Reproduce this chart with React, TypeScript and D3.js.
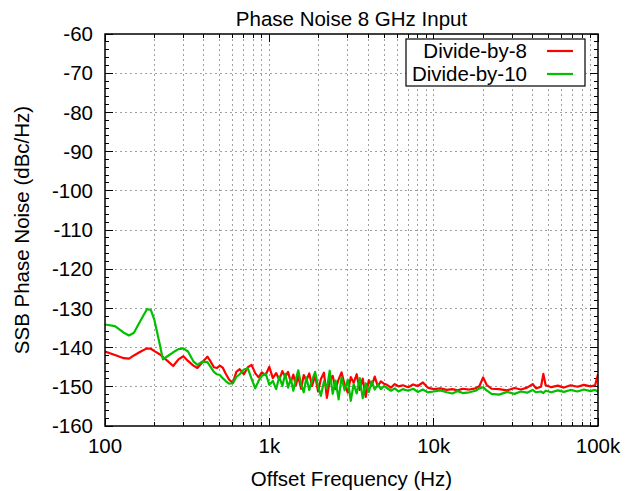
import React, { useRef, useEffect } from "react";
import * as d3 from "d3";

// offset frequencies (Hz)
const freqs = [
  100, 115, 130, 140, 150, 165, 180, 190, 200, 215, 225, 240, 260, 280, 300, 320, 345, 365, 390, 420,
  440, 460, 480, 500, 520, 545, 570, 600, 630, 660, 700, 740, 780, 820, 860, 900, 950, 1000,
  1050, 1100, 1150, 1200, 1250, 1300, 1350, 1400, 1450, 1500, 1560, 1620, 1680, 1750, 1820, 1900, 1980,
  2060, 2150, 2240, 2330, 2430, 2530, 2640, 2750, 2870, 3000, 3130, 3260, 3400, 3550, 3700, 3860, 4030,
  4200, 4380, 4570, 4770, 4980,
  5200, 5500, 5800, 6100, 6500, 7000, 7500, 8000, 8600, 9200, 10000, 11000, 12000, 13000, 14000, 15000,
  16500, 18000, 19000, 20000, 21000, 22500, 25000, 28000, 31000, 34000, 37000, 40000, 42000, 45000,
  46500, 48000, 52000, 57000, 62000, 68000, 75000, 82000, 90000, 96000, 100000,
];

// Divide-by-8 (dBc/Hz)
const div8 = [
  -141.0, -141.9, -142.7, -142.8, -142.0, -141.0, -140.2, -140.3, -140.9, -141.7, -142.4, -143.4, -144.7,
  -143.0, -142.2, -143.4, -144.6, -145.2, -143.8, -142.3, -143.6, -145.0, -145.2, -144.6, -145.1, -146.8,
  -148.2, -149.0, -146.2, -145.5, -146.8, -145.0, -144.4, -146.5, -147.6, -146.3, -147.0, -144.9,
  -147.8, -146.5, -148.2, -146.0, -147.5, -146.2, -148.8, -146.9, -149.6, -147.3, -150.5, -147.0, -148.4,
  -146.6, -149.8, -147.1, -151.2, -148.0, -146.4, -152.8, -148.5, -147.2, -150.6, -148.1, -146.3, -149.4,
  -151.5, -147.5, -149.0, -146.8, -150.8, -147.9, -152.6, -148.3, -149.7, -147.4, -149.9, -148.6, -149.2,
  -149.5, -150.2, -149.3, -149.9, -149.6, -150.1, -149.4, -149.8, -148.9, -150.2, -150.6, -150.4, -150.8,
  -150.6, -150.9, -150.5, -150.7, -150.4, -149.8, -147.6, -149.5, -150.5, -150.6, -150.9, -150.3, -150.7,
  -150.2, -149.3, -150.4, -150.0, -146.7, -149.6, -150.1, -149.7, -150.2, -149.6, -150.0, -149.5, -149.9,
  -149.6, -146.8,
];

// Divide-by-10 (dBc/Hz)
const div10 = [
  -134.1, -134.5, -136.2, -136.9, -136.2, -133.0, -130.2, -130.4, -133.0, -139.0, -143.0, -142.2, -141.2,
  -140.4, -140.2, -141.0, -143.5, -144.4, -143.6, -143.7, -145.0, -146.2, -146.8, -147.0, -147.8, -148.6,
  -149.2, -149.1, -147.5, -146.8, -145.6, -145.3, -148.0, -150.4, -148.5, -147.2, -146.6, -149.5,
  -148.5, -150.6, -147.4, -149.8, -146.7, -150.2, -147.9, -151.0, -148.0, -145.8, -149.4, -151.4, -147.6,
  -150.8, -148.3, -146.2, -149.9, -152.3, -148.6, -150.5, -145.9, -151.8, -148.4, -153.2, -147.6, -150.9,
  -148.2, -153.6, -149.3, -151.7, -147.8, -152.9, -149.1, -151.3, -148.6, -150.7, -149.4, -150.6, -149.8,
  -150.3, -151.0, -150.4, -151.2, -150.6, -151.0, -150.5, -151.3, -150.7, -151.4, -151.2, -150.9, -151.4,
  -151.7, -151.1, -151.6, -151.4, -151.0, -150.4, -150.1, -150.9, -151.8, -152.0, -151.3, -151.8, -151.2,
  -151.5, -150.8, -151.4, -151.2, -151.6, -151.0, -151.4, -150.9, -151.3, -150.8, -151.2, -150.7, -151.1,
  -150.8, -151.3,
];

const seriesNames = ["Divide-by-8", "Divide-by-10"];
const seriesColors = ["#ff0000", "#00c000"];
const xTickValues = [100, 1000, 10000, 100000];
const xTickLabels = ["100", "1k", "10k", "100k"];
const yTickValues = [-160, -150, -140, -130, -120, -110, -100, -90, -80, -70, -60];

const W = 636;
const H = 491;
const m = { left: 105, right: 38, top: 34, bottom: 65 };
const FONT = "'Liberation Sans', Arial, sans-serif";
const FS = 20.5;

const App = () => {
  const svgRef = useRef<SVGSVGElement>(null);

  useEffect(() => {
    const svg = d3.select(svgRef.current);
    svg.selectAll("*").remove();

    const x = d3.scaleLog().domain([100, 100000]).range([m.left, W - m.right]);
    const y = d3.scaleLinear().domain([-160, -60]).range([H - m.bottom, m.top]);
    const [x0, x1] = x.range();
    const [y0, y1] = y.range();

    // minor x positions 2..9 per decade
    const xMinor: number[] = [];
    for (let d = 100; d < 100000; d *= 10) {
      for (let k = 2; k <= 9; k++) xMinor.push(d * k);
    }
    const yMinor = d3.range(-160, -60, 2).filter((v) => v % 10 !== 0);

    // grid
    const grid = svg.append("g").attr("stroke", "#a0a0a0").attr("stroke-width", 1)
      .attr("stroke-dasharray", "2,3").attr("shape-rendering", "crispEdges");
    xMinor.concat(xTickValues.slice(1, -1)).forEach((f) => {
      grid.append("line").attr("x1", x(f)).attr("x2", x(f)).attr("y1", y0).attr("y2", y1);
    });
    yTickValues.slice(1, -1).forEach((v) => {
      grid.append("line").attr("x1", x0).attr("x2", x1).attr("y1", y(v)).attr("y2", y(v));
    });

    // ticks
    const ticks = svg.append("g").attr("stroke", "#000").attr("stroke-width", 1)
      .attr("shape-rendering", "crispEdges");
    yTickValues.forEach((v) => {
      ticks.append("line").attr("x1", x0).attr("x2", x0 + 8).attr("y1", y(v)).attr("y2", y(v));
      ticks.append("line").attr("x1", x1).attr("x2", x1 - 8).attr("y1", y(v)).attr("y2", y(v));
    });
    yMinor.forEach((v) => {
      ticks.append("line").attr("x1", x0).attr("x2", x0 + 4).attr("y1", y(v)).attr("y2", y(v));
      ticks.append("line").attr("x1", x1).attr("x2", x1 - 4).attr("y1", y(v)).attr("y2", y(v));
    });
    xTickValues.forEach((f) => {
      ticks.append("line").attr("x1", x(f)).attr("x2", x(f)).attr("y1", y0).attr("y2", y0 - 8);
      ticks.append("line").attr("x1", x(f)).attr("x2", x(f)).attr("y1", y1).attr("y2", y1 + 8);
    });
    xMinor.forEach((f) => {
      ticks.append("line").attr("x1", x(f)).attr("x2", x(f)).attr("y1", y0).attr("y2", y0 - 4);
      ticks.append("line").attr("x1", x(f)).attr("x2", x(f)).attr("y1", y1).attr("y2", y1 + 4);
    });

    // data lines
    const clip = svg.append("clipPath").attr("id", "plotclip");
    clip.append("rect").attr("x", x0).attr("y", y1).attr("width", x1 - x0).attr("height", y0 - y1);
    const line = d3.line<number>().x((d, i) => x(freqs[i])).y((d) => y(d));
    [div8, div10].forEach((vals, i) => {
      svg.append("path").datum(vals).attr("clip-path", "url(#plotclip)")
        .attr("fill", "none").attr("stroke", seriesColors[i]).attr("stroke-width", 2.2)
        .attr("stroke-linejoin", "round").attr("d", line);
    });

    // border
    svg.append("rect").attr("x", x0).attr("y", y1).attr("width", x1 - x0).attr("height", y0 - y1)
      .attr("fill", "none").attr("stroke", "#000").attr("stroke-width", 1.5);

    // tick labels
    const text = svg.append("g").attr("font-family", FONT).attr("font-size", FS).attr("fill", "#000");
    yTickValues.forEach((v) => {
      text.append("text").attr("x", x0 - 12).attr("y", y(v)).attr("dy", "0.35em")
        .attr("text-anchor", "end").text(String(v));
    });
    xTickValues.forEach((f, i) => {
      text.append("text").attr("x", x(f)).attr("y", y0 + 27)
        .attr("text-anchor", "middle").text(xTickLabels[i]);
    });

    // titles
    text.append("text").attr("x", (x0 + x1) / 2).attr("y", 26).attr("text-anchor", "middle")
      .text("Phase Noise 8 GHz Input");
    text.append("text").attr("x", (x0 + x1) / 2).attr("y", y0 + 60).attr("text-anchor", "middle")
      .text("Offset Frequency (Hz)");
    text.append("text").attr("transform", `translate(29,${(y0 + y1) / 2}) rotate(-90)`)
      .attr("text-anchor", "middle").text("SSB Phase Noise (dBc/Hz)");

    // legend
    const lg = svg.append("g");
    lg.append("rect").attr("x", 406).attr("y", 39).attr("width", 179).attr("height", 47)
      .attr("fill", "#fff").attr("stroke", "#000").attr("stroke-width", 1.2);
    seriesNames.forEach((name, i) => {
      const cy = 51 + i * 23;
      lg.append("text").attr("x", 527).attr("y", cy).attr("dy", "0.35em")
        .attr("text-anchor", "end").attr("font-family", FONT).attr("font-size", FS).text(name);
      lg.append("line").attr("x1", 547).attr("x2", 573).attr("y1", cy).attr("y2", cy)
        .attr("stroke", seriesColors[i]).attr("stroke-width", 2.2);
    });
  }, []);

  return (
    <svg ref={svgRef} width={W} height={H}
      style={{ position: "absolute", left: 0, top: 0, background: "#fff" }} />
  );
};

export default App;
